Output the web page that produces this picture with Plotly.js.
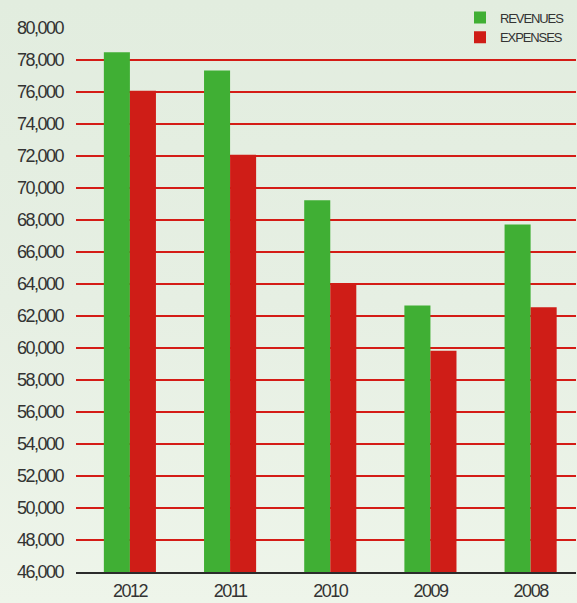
<!DOCTYPE html>
<html>
<head>
<meta charset="utf-8">
<script src="https://cdn.plot.ly/plotly-3.0.1.min.js"></script>
<style>
html,body{margin:0;padding:0;}
#chart{width:577px;height:603px;background:linear-gradient(to bottom,#e2eddf 0%,#e6efe3 50%,#eef5ea 100%);}
#chart .xtick text, #chart .ytick text{letter-spacing:-1.5px;}
#chart .legendtext{letter-spacing:-1.1px;}
</style>
</head>
<body>
<div id="chart"></div>
<script>
var years = ['2012', '2011', '2010', '2009', '2008'];
var revenues = [78480, 77340, 69230, 62660, 67720];
var expenses = [76080, 72080, 64020, 59830, 62540];
var yTicks = [46000,48000,50000,52000,54000,56000,58000,60000,62000,64000,66000,68000,70000,72000,74000,76000,78000,80000];

var fontFam = '"Liberation Sans", Arial, sans-serif';

var data = [
  {type:'bar', name:'REVENUES', x:years, y:revenues, marker:{color:'#40af34', line:{width:0}}},
  {type:'bar', name:'EXPENSES', x:years, y:expenses, marker:{color:'#cf1d17', line:{width:0}}}
];

var layout = {
  width:577, height:603,
  margin:{l:76, r:0, t:27, b:31, pad:0},
  paper_bgcolor:'rgba(0,0,0,0)',
  plot_bgcolor:'rgba(0,0,0,0)',
  barmode:'group',
  bargap:0.48,
  bargroupgap:0,
  showlegend:true,
  legend:{x:0.768, y:1.045, xanchor:'left', yanchor:'top', bgcolor:'rgba(0,0,0,0)',
          font:{family:fontFam, size:13, color:'#333333'}, tracegroupgap:0, itemwidth:30},
  font:{family:fontFam, color:'#333333'},
  xaxis:{type:'category', range:[-0.538, 4.453], showgrid:false, zeroline:false,
         showline:true, linecolor:'#2b2b2b', linewidth:2, ticks:'',
         tickfont:{family:fontFam, size:18, color:'#333333'}, ticklabelstandoff:1},
  yaxis:{range:[46000, 80060], tickvals:yTicks, tickformat:',d', showgrid:true,
         gridcolor:'#d41c16', gridwidth:1.2, zeroline:false, showline:false, ticks:'',
         tickfont:{family:fontFam, size:18, color:'#333333'}, ticklabelstandoff:12}
};

Plotly.newPlot('chart', data, layout, {displayModeBar:false, staticPlot:true});
</script>
</body>
</html>
